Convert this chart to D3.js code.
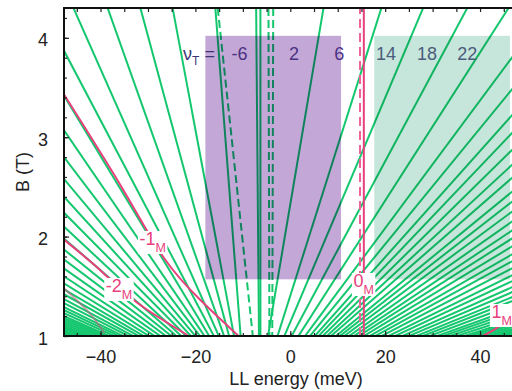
<!DOCTYPE html>
<html>
<head>
<meta charset="utf-8">
<script src="https://cdn.jsdelivr.net/npm/d3@7"></script>
<style>
    body { margin: 0; background: #fff; }
    svg { display: block; font-family: 'Liberation Sans', Arial, sans-serif; }
</style>
</head>
<body>
<div id="chart"></div>
<script>
// fans: common origin (E, B) plus the point where each line leaves the frame
const leftFanOrigin = [-9.5, 0.4];
const leftFanTopE = [-15.8, -24.8, -31.6, -38.5, -45.7]; // E at B = 4.3
const leftEdgeE = -47.7;
const leftFanEdgeB = [3.87, 3.42, 3.07, 2.8, 2.58, 2.4, 2.24, 2.1, 1.98, 1.87, 1.77, 1.68, 1.6, 1.53, 1.47, 1.42, 1.37, 1.33, 1.29, 1.26, 1.23, 1.2, 1.18, 1.16, 1.14, 1.12, 1.1, 1.085, 1.07, 1.055, 1.04, 1.03, 1.02, 1.01];
const rightFanOrigin = [-7, 0.35];
const rightFanTopE = [7.0, 19.2, 28.0, 37.3, 46.0];
const rightEdgeE = 46.7;
const rightFanEdgeB = [3.8, 3.48, 3.22, 3.04, 2.87, 2.72, 2.59, 2.45, 2.35, 2.25, 2.15, 2.06, 1.98, 1.9, 1.82, 1.75, 1.68, 1.61, 1.55, 1.49, 1.44, 1.39, 1.35, 1.31, 1.27, 1.24, 1.21, 1.18, 1.15, 1.13, 1.11, 1.09, 1.07, 1.055, 1.04, 1.03, 1.02, 1.01];
const centerSolid = [[-7.2, -6.6], [-6.3, -6.3]]; // [E at B = 4.3, E at B = 1]
const centerDashed = [[-15.3, -7.9], [-4.6, -4.4], [-3.6, -3.8]];
const zeroMSolidE = 15.5;
const zeroMDashedE = 14.7;
const minus1M = [[-47.7, 3.43], [-35.2, 2.47], [-26.7, 1.79], [-18.9, 1.36], [-10.9, 1.0]];
const minus2M = [[-47.7, 1.97], [-40, 1.66], [-32.4, 1.34], [-21.7, 1.01]];
const minus3M = [[-47.7, 1.48], [-42.5, 1.24], [-39.2, 1.03]];
const plus1M = [[40.6, 1.0], [43.8, 1.09], [47.5, 1.22]];
const levelLabels = [['-1', -31.8, 1.916], ['-2', -38.9, 1.443], ['0', 13.3, 1.493], ['1', 42.4, 1.181]];
const bands = [[-17.9, 10.7, 1.57, 4.02], [17.7, 46.3, 1.57, 4.02]];
const fillingPurple = [['-6', -10.7], ['2', 0.8], ['6', 10.3]];
const fillingTeal = [['14', 20.2], ['18', 28.8], ['22', 37.3]];
const fillingB = 3.78;
const xTicks = [-40, -20, 0, 20, 40];
const yTicks = [1, 2, 3, 4];

const margins = { top: 8, left: 64 };
const width = 463.5;
const height = 328;
const green = '#14c76e';
const pink = '#e8407c';

const svg = d3
    .select('#chart')
    .append('svg')
    .attr('width', 512)
    .attr('height', 391)
    .append('g')
    .attr('transform', `translate(${margins.left},${margins.top})`);

const x = d3.scaleLinear().domain([-47.7, 50]).range([0, width]);
const y = d3.scaleLinear().domain([1, 4.3]).range([height, 0]);
const line = d3
    .line()
    .x((d) => x(d[0]))
    .y((d) => y(d[1]));

svg.append('defs')
    .append('clipPath')
    .attr('id', 'plot-clip')
    .append('rect')
    .attr('width', width)
    .attr('height', height);

const plot = svg.append('g').attr('clip-path', 'url(#plot-clip)');

const extend = (o, p) => [o, [o[0] + (p[0] - o[0]) * 1.6, o[1] + (p[1] - o[1]) * 1.6]];

const fanLines = [
    ...leftFanTopE.map((e) => extend(leftFanOrigin, [e, 4.3])),
    ...leftFanEdgeB.map((b) => extend(leftFanOrigin, [leftEdgeE, b])),
    ...rightFanTopE.map((e) => extend(rightFanOrigin, [e, 4.3])),
    ...rightFanEdgeB.map((b) => extend(rightFanOrigin, [rightEdgeE, b])),
    ...centerSolid.map((d) => [[d[0], 4.3], [d[1], 1]]),
];

plot.selectAll('.fan')
    .data(fanLines)
    .enter()
    .append('path')
    .attr('d', line)
    .style('fill', 'none')
    .style('stroke', green)
    .style('stroke-width', 2);

plot.selectAll('.center-dashed')
    .data(centerDashed)
    .enter()
    .append('path')
    .attr('d', (d) => line([[d[0], 4.3], [d[1], 1]]))
    .style('fill', 'none')
    .style('stroke', green)
    .style('stroke-width', 2)
    .style('stroke-dasharray', '8,4');

plot.append('path')
    .attr('d', d3.line().x((d) => x(d[0])).y((d) => y(d[1])).curve(d3.curveNatural)(minus3M))
    .style('fill', 'none')
    .style('stroke', '#b8607e')
    .style('stroke-width', 2)
    .style('opacity', 0.6);

// shaded filling-factor regions
plot.selectAll('.band')
    .data(bands)
    .enter()
    .append('rect')
    .attr('x', (d) => x(d[0]))
    .attr('y', (d) => y(d[3]))
    .attr('width', (d) => x(d[1]) - x(d[0]))
    .attr('height', (d) => y(d[2]) - y(d[3]))
    .style('fill', (d, i) => (i === 0 ? '#c3a8d7' : '#c6e6db'))
    .style('mix-blend-mode', 'multiply');

const curve = d3
    .line()
    .x((d) => x(d[0]))
    .y((d) => y(d[1]))
    .curve(d3.curveNatural);

plot.selectAll('.mono')
    .data([minus1M, minus2M, plus1M])
    .enter()
    .append('path')
    .attr('d', curve)
    .style('fill', 'none')
    .style('stroke', pink)
    .style('stroke-width', 2);

plot.append('path')
    .attr('d', line([[zeroMSolidE, 1], [zeroMSolidE, 4.3]]))
    .style('stroke', pink)
    .style('stroke-width', 2);

plot.append('path')
    .attr('d', line([[zeroMDashedE, 1], [zeroMDashedE, 4.3]]))
    .style('stroke', '#f0609a')
    .style('stroke-width', 2)
    .style('stroke-dasharray', '9,5');

// filling factor labels
const nu = svg
    .append('text')
    .attr('x', x(-22.6))
    .attr('y', y(fillingB))
    .style('font-size', '18px')
    .style('fill', '#3b3576');
nu.append('tspan').text('ν');
nu.append('tspan').attr('dy', 5).style('font-size', '12px').text('T');
nu.append('tspan').attr('dy', -5).text(' =');

svg.selectAll('.fill-purple')
    .data(fillingPurple)
    .enter()
    .append('text')
    .attr('x', (d) => x(d[1]))
    .attr('y', y(fillingB))
    .attr('text-anchor', 'middle')
    .style('font-size', '18px')
    .style('fill', '#4a3283')
    .text((d) => d[0]);

svg.selectAll('.fill-teal')
    .data(fillingTeal)
    .enter()
    .append('text')
    .attr('x', (d) => x(d[1]))
    .attr('y', y(fillingB))
    .attr('text-anchor', 'middle')
    .style('font-size', '18px')
    .style('fill', '#4b5b7c')
    .text((d) => d[0]);

// LL labels with white boxes
levelLabels.forEach((d) => {
    const g = svg.append('g');
    const t = g
        .append('text')
        .attr('x', x(d[1]))
        .attr('y', y(d[2]))
        .style('font-size', '18px')
        .style('fill', pink);
    t.append('tspan').text(d[0]);
    t.append('tspan').attr('dy', 7).style('font-size', '12.5px').text('M');
    const bb = t.node().getBBox();
    g.insert('rect', 'text')
        .attr('x', bb.x - 1.5)
        .attr('y', bb.y + 2)
        .attr('width', bb.width + 3)
        .attr('height', bb.height - 3)
        .style('fill', '#fff');
});

// axes
const minorX = d3.range(-45, 50.1, 5);
const minorY = d3.range(1, 4.31, 0.2);

svg.append('g')
    .attr('transform', `translate(0,${height})`)
    .call(d3.axisBottom(x).tickValues(minorX).tickSize(-3).tickFormat(''))
    .call((g) => g.select('.domain').remove());

svg.append('g')
    .attr('transform', `translate(0,${height})`)
    .call(d3.axisBottom(x).tickValues(xTicks).tickSize(-5).tickPadding(14).tickFormat(d3.format('d')))
    .call((g) => g.select('.domain').remove());

svg.append('g')
    .call(d3.axisTop(x).tickValues(minorX).tickSize(-4).tickFormat(''))
    .call((g) => g.select('.domain').remove());

svg.append('g')
    .call(d3.axisLeft(y).tickValues(minorY).tickSize(-3).tickFormat(''))
    .call((g) => g.select('.domain').remove());

svg.append('g')
    .call(d3.axisLeft(y).tickValues(yTicks).tickSize(-5).tickPadding(16).tickFormat(d3.format('d')))
    .call((g) => g.select('.domain').remove())
    .selectAll('text')
    .attr('dy', '0.45em');

svg.selectAll('.tick text')
    .style('font-size', '18px')
    .style('font-family', "'Liberation Sans', Arial, sans-serif")
    .style('fill', '#222');

svg.selectAll('.tick line').style('stroke', '#222').style('stroke-width', 1.2);

svg.append('rect')
    .attr('width', width)
    .attr('height', height)
    .style('fill', 'none')
    .style('stroke', '#111')
    .style('stroke-width', 2);

svg.append('text')
    .attr('x', 232)
    .attr('y', 377)
    .attr('text-anchor', 'middle')
    .style('font-size', '18px')
    .style('fill', '#222')
    .text('LL energy (meV)');

svg.append('text')
    .attr('transform', `translate(-35,${164}) rotate(-90)`)
    .attr('text-anchor', 'middle')
    .style('font-size', '18px')
    .style('fill', '#222')
    .text('B (T)');
</script>
</body>
</html>
